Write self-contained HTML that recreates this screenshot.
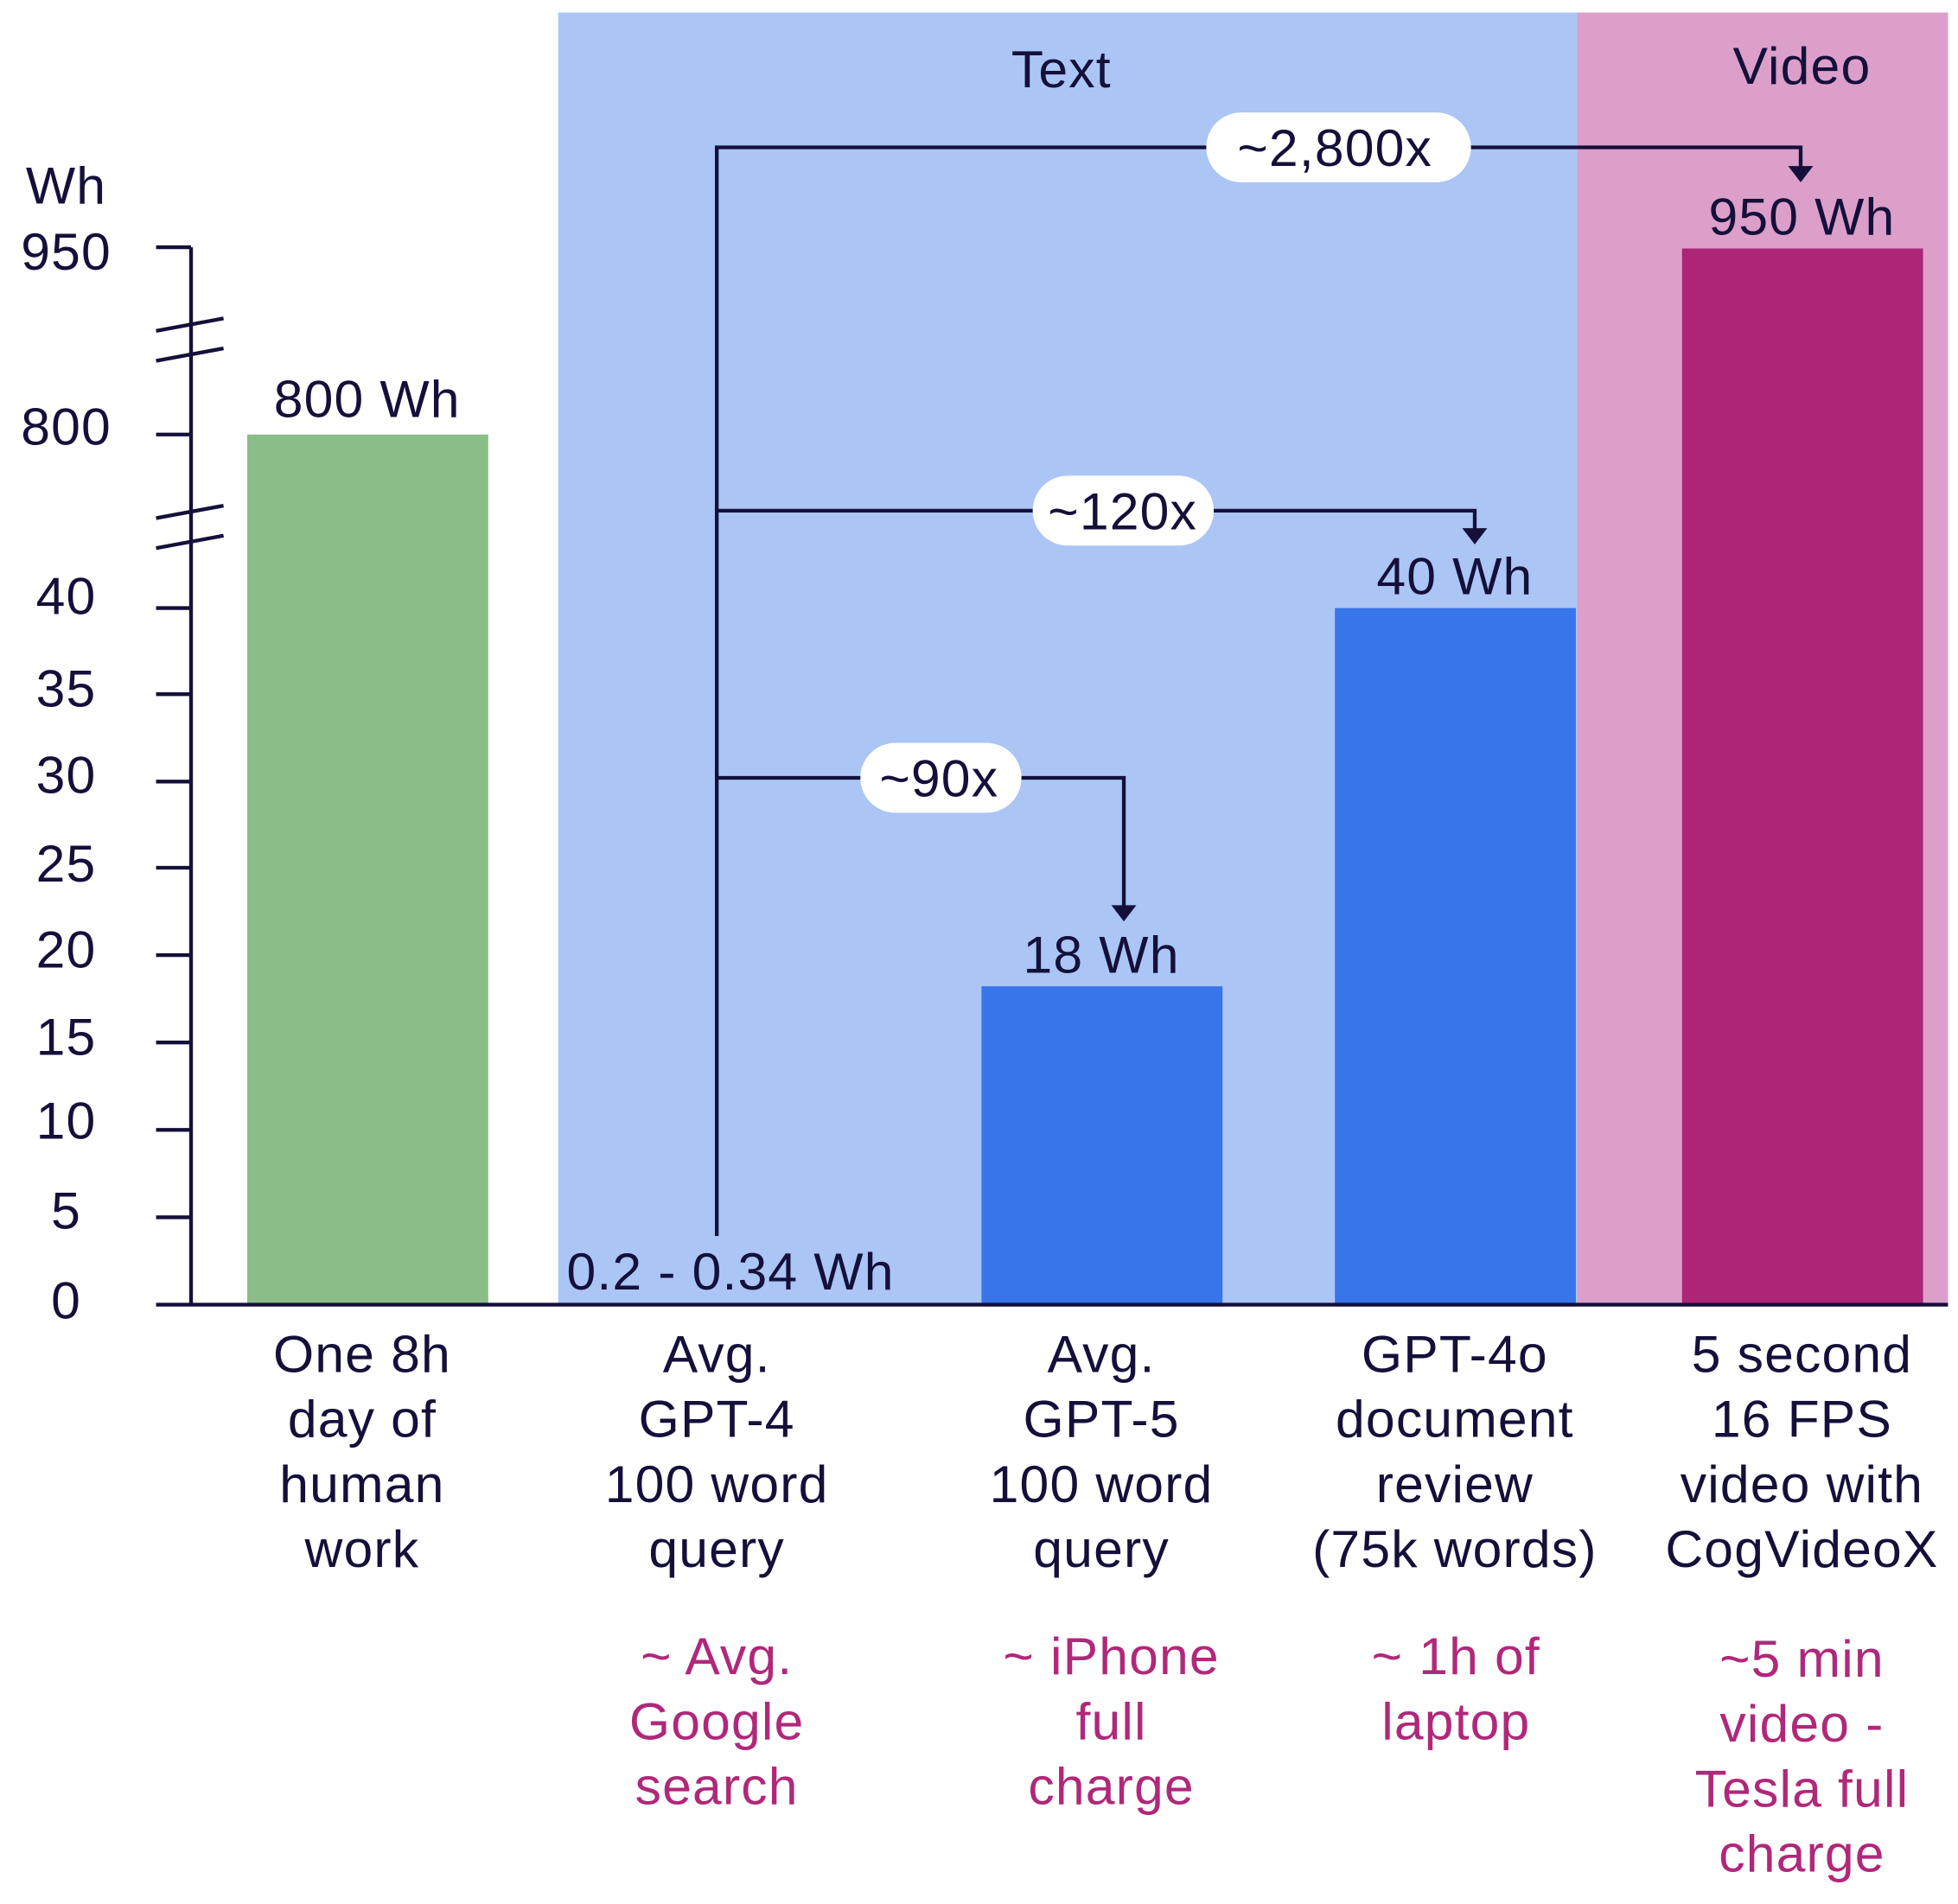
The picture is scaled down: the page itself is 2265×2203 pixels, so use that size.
<!DOCTYPE html>
<html><head><meta charset="utf-8"><style>
html,body{margin:0;padding:0;background:#fff;}
svg{display:block;}
text{font-family:"Liberation Sans",sans-serif;fill:#14103a;letter-spacing:0.8px;}
.p{fill:#b0287a;}
</style></head><body>
<svg width="2265" height="2203" viewBox="0 0 1568 1525" xmlns="http://www.w3.org/2000/svg">
<rect x="447" y="10" width="816" height="1035" fill="#abc5f5"/>
<rect x="1263" y="10" width="297" height="1035" fill="#dc9fca"/>
<text x="850" y="70" font-size="42" text-anchor="middle">Text</text>
<text x="1443" y="67" font-size="42" text-anchor="middle">Video</text>
<rect x="198" y="348" width="193" height="697" fill="#8abd88"/>
<rect x="786" y="790" width="193" height="255" fill="#3874ea"/>
<rect x="1069" y="487" width="193" height="558" fill="#3874ea"/>
<rect x="1347" y="199" width="193" height="846" fill="#ae2477"/>
<g stroke="#14103a" stroke-width="3" fill="none">
<line x1="153" y1="198" x2="153" y2="1046"/>
<line x1="125" y1="1045" x2="1560" y2="1045"/>
<line x1="125" y1="198" x2="153" y2="198"/>
<line x1="125" y1="348" x2="153" y2="348"/>
<line x1="125" y1="487" x2="153" y2="487"/>
<line x1="125" y1="556" x2="153" y2="556"/>
<line x1="125" y1="626" x2="153" y2="626"/>
<line x1="125" y1="695" x2="153" y2="695"/>
<line x1="125" y1="765" x2="153" y2="765"/>
<line x1="125" y1="835" x2="153" y2="835"/>
<line x1="125" y1="905" x2="153" y2="905"/>
<line x1="125" y1="975" x2="153" y2="975"/>
<line x1="125" y1="265" x2="179" y2="255"/>
<line x1="125" y1="289" x2="179" y2="279"/>
<line x1="125" y1="415" x2="179" y2="405"/>
<line x1="125" y1="439" x2="179" y2="429"/>
<polyline points="574,990 574,118 1442,118 1442,135"/>
<polyline points="574,409 1181,409 1181,425"/>
<polyline points="574,623 900,623 900,728"/>
</g>
<g fill="#14103a">
<polygon points="1432,133 1452,133 1442,146"/>
<polygon points="1171,423 1191,423 1181,436"/>
<polygon points="890,725 910,725 900,738"/>
</g>
<rect x="966" y="90" width="212" height="56" rx="28" fill="#fff"/>
<text x="1069" y="133" font-size="42" text-anchor="middle">~2,800x</text>
<rect x="827" y="381" width="145" height="56" rx="28" fill="#fff"/>
<text x="899" y="424" font-size="42" text-anchor="middle">~120x</text>
<rect x="689" y="595" width="129" height="56" rx="28" fill="#fff"/>
<text x="752" y="638" font-size="42" text-anchor="middle">~90x</text>
<g font-size="42" text-anchor="middle">
<text x="53" y="163">Wh</text>
<text x="53" y="216">950</text>
<text x="53" y="356">800</text>
<text x="53" y="492">40</text>
<text x="53" y="566">35</text>
<text x="53" y="635">30</text>
<text x="53" y="706">25</text>
<text x="53" y="775">20</text>
<text x="53" y="845">15</text>
<text x="53" y="912">10</text>
<text x="53" y="984">5</text>
<text x="53" y="1056">0</text>
</g>
<g font-size="42" text-anchor="middle">
<text x="294" y="334">800 Wh</text>
<text x="882" y="779">18 Wh</text>
<text x="1165" y="476">40 Wh</text>
<text x="1443" y="188">950 Wh</text>
<text x="585" y="1033">0.2 - 0.34 Wh</text>
</g>
<g font-size="42" text-anchor="middle">
<text x="290" y="1099">One 8h</text><text x="290" y="1151">day of</text><text x="290" y="1203">human</text><text x="290" y="1255">work</text>
<text x="574" y="1099">Avg.</text><text x="574" y="1151">GPT-4</text><text x="574" y="1203">100 word</text><text x="574" y="1255">query</text>
<text x="882" y="1099">Avg.</text><text x="882" y="1151">GPT-5</text><text x="882" y="1203">100 word</text><text x="882" y="1255">query</text>
<text x="1165" y="1099">GPT-4o</text><text x="1165" y="1151">document</text><text x="1165" y="1203">review</text><text x="1165" y="1255">(75k words)</text>
<text x="1443" y="1099">5 second</text><text x="1443" y="1151">16 FPS</text><text x="1443" y="1203">video with</text><text x="1443" y="1255">CogVideoX</text>
</g>
<g font-size="42" text-anchor="middle">
<text class="p" x="574" y="1341">~ Avg.</text><text class="p" x="574" y="1393">Google</text><text class="p" x="574" y="1445">search</text>
<text class="p" x="890" y="1341">~ iPhone</text><text class="p" x="890" y="1393">full</text><text class="p" x="890" y="1445">charge</text>
<text class="p" x="1166" y="1341">~ 1h of</text><text class="p" x="1166" y="1393">laptop</text>
<text class="p" x="1443" y="1343">~5 min</text><text class="p" x="1443" y="1395">video -</text><text class="p" x="1443" y="1447">Tesla full</text><text class="p" x="1443" y="1499">charge</text>
</g>
</svg>
</body></html>
